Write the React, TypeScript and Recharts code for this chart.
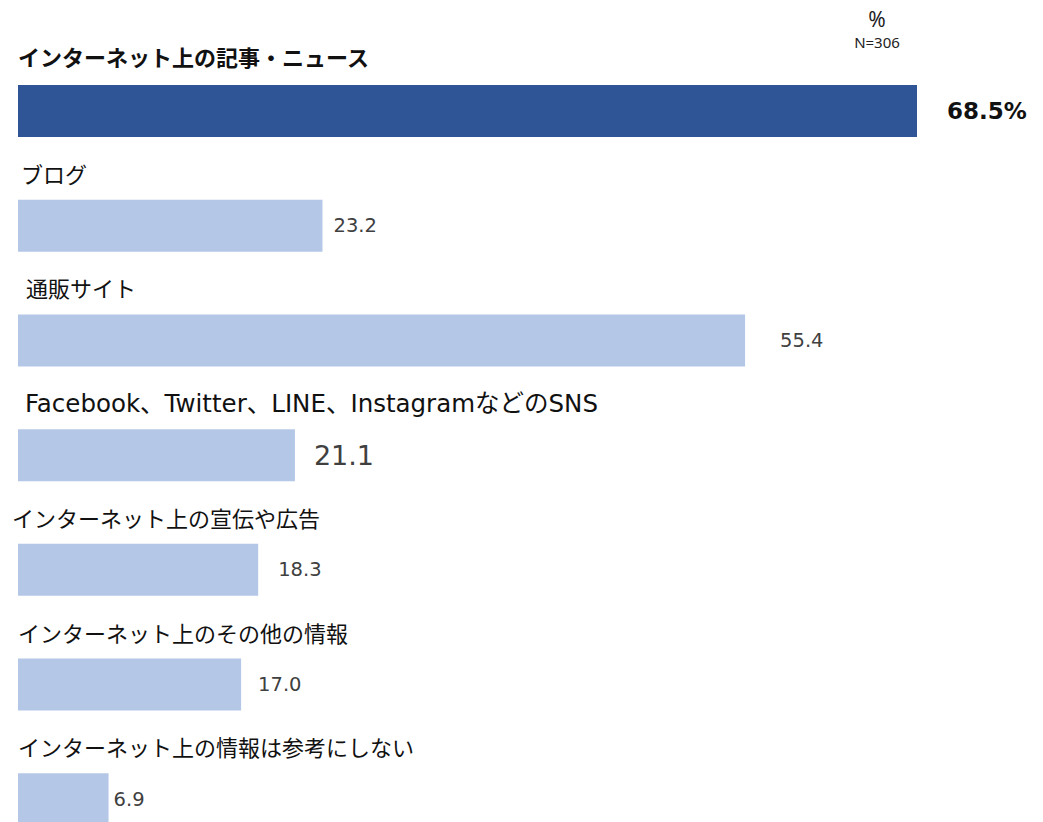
import React from "react";
import { BarChart, Bar, XAxis, YAxis, Cell, LabelList } from "recharts";

// categories (top to bottom) and their % values
const categories = [
  "インターネット上の記事・ニュース",
  "ブログ",
  "通販サイト",
  "Facebook、Twitter、LINE、InstagramなどのSNS",
  "インターネット上の宣伝や広告",
  "インターネット上のその他の情報",
  "インターネット上の情報は参考にしない",
];
const values = [68.5, 23.2, 55.4, 21.1, 18.3, 17.0, 6.9];
const valueTexts = ["68.5%", "23.2", "55.4", "21.1", "18.3", "17.0", "6.9"];

const unitLabel = "%";
const sampleLabel = "N=306";

// little per-row nudges, the source slide was laid out by hand
const nameDx = [0, 3, 8, 7, -6, 0, 0];
const valueDx = [30, 11, 35, 19, 20, 17, 5];

const DARK = "#2F5597";
const LIGHT = "#B4C7E7";

const CJK = "'Noto Sans CJK JP', 'Noto Sans', sans-serif";

const data = categories.map((name, i) => ({ name, value: values[i] }));

const NameLabel = (props: any) => {
  const { x, y, index } = props;
  let style: any = { fontSize: 22, fontFamily: CJK };
  if (index === 0) style = { fontSize: 22, fontWeight: 700, fontFamily: CJK };
  if (index === 3) style = { fontSize: 24.5, fontFamily: "'DejaVu Sans', " + CJK };
  return (
    <text x={x + nameDx[index]} y={y - (index === 0 ? 19 : 17)} fill="#111" {...style}>
      {categories[index]}
    </text>
  );
};

const ValueLabel = (props: any) => {
  const { x, y, width, height, index } = props;
  let style: any = { fontSize: 19.5, fill: "#404040", fontFamily: "'DejaVu Sans', sans-serif" };
  if (index === 0) style = { fontSize: 23, fill: "#111", fontWeight: 700, fontFamily: "'DejaVu Sans', sans-serif" };
  if (index === 3) style = { fontSize: 27, fill: "#404040", fontFamily: "'DejaVu Sans', sans-serif" };
  return (
    <text x={x + width + valueDx[index]} y={y + height / 2} dominantBaseline="central" {...style}>
      {valueTexts[index]}
    </text>
  );
};

export default function App() {
  return (
    <div style={{ position: "absolute", left: 0, top: 0, width: 1043, height: 822, overflow: "hidden", background: "#fff" }}>
      <div style={{ position: "absolute", left: 838, top: 9, width: 78, textAlign: "center", fontFamily: "'Noto Sans', sans-serif", color: "#222", lineHeight: 1 }}>
        <div style={{ fontSize: 21 }}>{unitLabel}</div>
        <div style={{ fontSize: 15, marginTop: 5 }}>{sampleLabel}</div>
      </div>
      <BarChart
        width={1043}
        height={857}
        data={data}
        layout="vertical"
        margin={{ top: 54, right: 126, bottom: 0, left: 18 }}
      >
        <XAxis type="number" domain={[0, 68.5]} hide />
        <YAxis type="category" dataKey="name" hide width={0} />
        <Bar dataKey="value" barSize={52} isAnimationActive={false}>
          {data.map((d, i) => (
            <Cell key={d.name} fill={i === 0 ? DARK : LIGHT} />
          ))}
          <LabelList dataKey="value" content={NameLabel} />
          <LabelList dataKey="value" content={ValueLabel} />
        </Bar>
      </BarChart>
    </div>
  );
}
